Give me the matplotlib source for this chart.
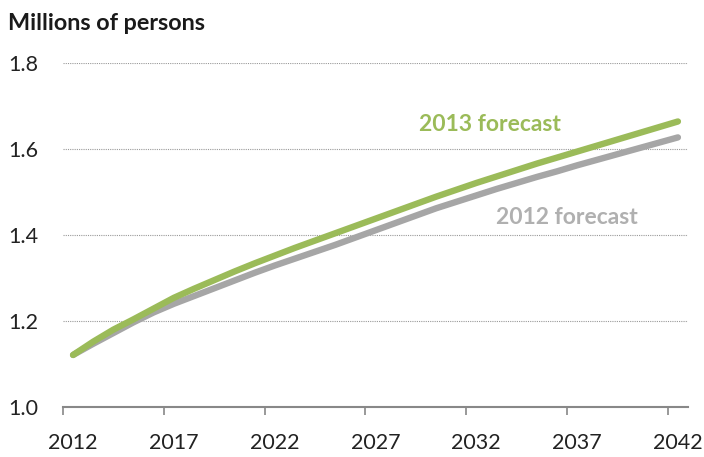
import matplotlib
matplotlib.use("Agg")
import matplotlib.pyplot as plt
import numpy as np

years = list(range(2012, 2043))
forecast_2013 = [1.121, 1.152, 1.180, 1.204, 1.229, 1.254, 1.275, 1.295, 1.315, 1.334,
                 1.352, 1.370, 1.387, 1.404, 1.421, 1.438, 1.455, 1.472, 1.489, 1.505,
                 1.521, 1.536, 1.551, 1.566, 1.580, 1.594, 1.608, 1.622, 1.636, 1.650, 1.664]
forecast_2012 = [1.121, 1.147, 1.172, 1.197, 1.220, 1.240, 1.258, 1.276, 1.294, 1.312,
                 1.329, 1.345, 1.361, 1.377, 1.394, 1.411, 1.428, 1.445, 1.462, 1.477,
                 1.492, 1.507, 1.521, 1.535, 1.548, 1.562, 1.575, 1.588, 1.601, 1.614, 1.627]
x_labels = ["2012", "2017", "2022", "2027", "2032", "2037", "2042"]
y_ticks = [1.0, 1.2, 1.4, 1.6, 1.8]

plt.rcParams['font.family'] = ['Lato', 'DejaVu Sans']

fig = plt.figure(figsize=(7.04, 4.57), dpi=100)
ax = fig.add_axes([63/704, 1-407/457, (688-63)/704, (407-63)/457])

green = "#9BBB59"
gray = "#A6A6A6"
ax.plot(years, forecast_2012, color=gray, lw=4.6, solid_capstyle='round', zorder=3)
ax.plot(years, forecast_2013, color=green, lw=4.6, solid_capstyle='round', zorder=4)

ax.set_xlim(2011.5, 2042.5)
ax.set_ylim(1.0, 1.8)

ax.set_yticks(y_ticks)
ax.set_yticklabels([f"{v:.1f}" for v in y_ticks])
ax.set_xticks([int(s) for s in x_labels])
ax.set_xticklabels(x_labels)
ax.set_xticks([2011.5 + 5*k for k in range(7)], minor=True)

ax.tick_params(axis='x', which='major', length=0, pad=19, labelsize=15.5, colors='#222222')
ax.tick_params(axis='x', which='minor', length=6, width=1.2, color='#888888', direction='out')
ax.tick_params(axis='y', which='major', length=0, pad=18, labelsize=15.5, colors='#222222')
for lab in ax.get_yticklabels():
    lab.set_horizontalalignment('right')

for v in y_ticks[1:]:
    ax.axhline(v, color='#999999', lw=0.8, ls=(0, (1, 1)), zorder=1)

for s in ['top', 'right', 'left']:
    ax.spines[s].set_visible(False)
ax.spines['bottom'].set_color('#888888')
ax.spines['bottom'].set_linewidth(1.5)

fig.text(8/704, 1-23/457, "Millions of persons", fontsize=16.8, fontweight='bold',
         color='#1a1a1a', ha='left', va='center')

ax.text(2032.7, 1.658, "2013 forecast", color=green, fontsize=16.5, fontweight='bold',
        ha='center', va='center')
ax.text(2036.5, 1.44, "2012 forecast", color="#B0B0B0", fontsize=16.5, fontweight='bold',
        ha='center', va='center')

fig.savefig("out.png", dpi=100)
